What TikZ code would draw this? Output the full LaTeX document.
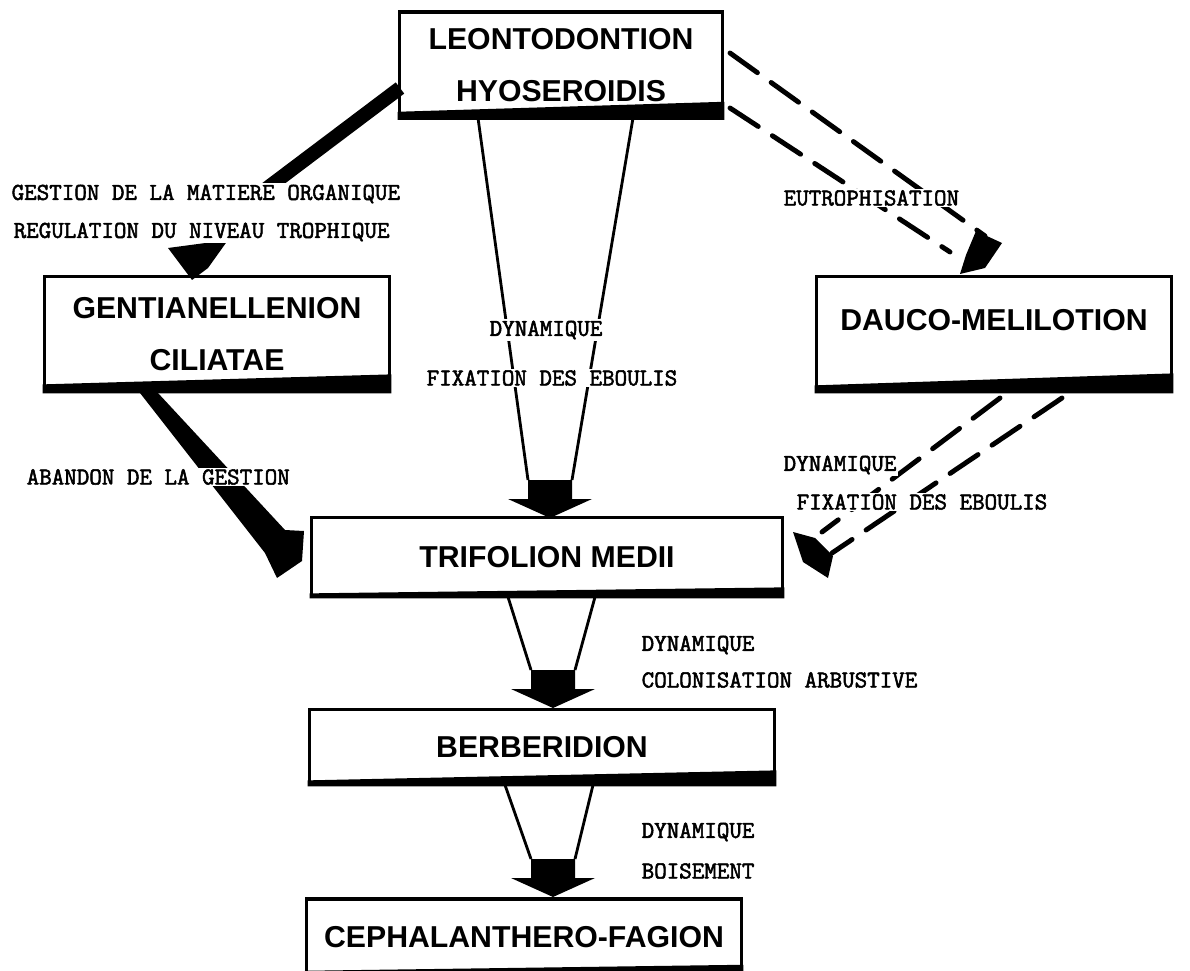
\documentclass[tikz,border=0pt]{standalone}
\usepackage{fontspec}
\usetikzlibrary{calc}
\newfontfamily\boxfont{Liberation Sans}
\newfontfamily\labfont[FakeBold=2.2]{Latin Modern Mono}

% thick shadow along the lower edge of a box
\newcommand{\boxshadow}[3]{\fill ($(#1.south west)$) -- ($(#1.south east)$) -- ($(#1.south east)+(0,-#3)$) -- ($(#1.south west)+(0,-#2)$) -- cycle;}
% block arrow head, tip at #1
\newcommand{\funnelhead}[1]{\fill (#1) -- ++(-42,-19) -- ++(20,0) -- ++(0,-19) -- ++(44,0) -- ++(0,19) -- ++(20,0) -- cycle;}

\begin{document}
\begin{tikzpicture}[x=0.025cm,y=-0.025cm]

		\tikzstyle{box} = [draw, line width=2.5pt, inner sep=0pt, align=center, font=\boxfont\bfseries\fontsize{21.5}{36.5}\selectfont]
		\tikzstyle{lab} = [fill=white, inner sep=1pt, anchor=west, font=\labfont\fontsize{17.3}{17.3}\selectfont]
		\tikzstyle{funnel} = [draw, line width=2pt]
		\tikzstyle{dashedge} = [draw, line width=3.5pt, line cap=round, dash pattern=on 24pt off 12pt]
		\tikzstyle{heavy} = [draw, line width=10pt]

		\useasboundingbox (0,0) rectangle (1190,971);
		\clip (0,0) rectangle (1190,971);

		% vegetation units
		\node[box, minimum width=8.08cm, minimum height=2.65cm] (leon) at (561,65) {LEONTODONTION\\HYOSEROIDIS};
		\node[box, minimum width=8.63cm, minimum height=2.88cm] (gent) at (217,334) {GENTIANELLENION\\CILIATAE};
		\node[box, minimum width=8.88cm, minimum height=2.88cm, text depth=20pt] (dauco) at (994,334) {DAUCO-MELILOTION};
		\node[box, minimum width=11.78cm, minimum height=1.98cm] (trif) at (547,557) {TRIFOLION MEDII};
		\node[box, minimum width=11.63cm, minimum height=1.88cm] (berb) at (542,747) {BERBERIDION};
		\node[box, minimum width=10.88cm, minimum height=1.9cm] (ceph) at (524,937) {CEPHALANTHERO-FAGION};

		\boxshadow{leon}{8}{18}
		\boxshadow{gent}{9}{19}
		\boxshadow{dauco}{8}{20}
		\boxshadow{trif}{5}{11}
		\boxshadow{berb}{6}{16}
		\boxshadow{ceph}{6}{12}

		% leontodontion -> gentianellenion
		\coordinate (lg1) at (400,88);
		\coordinate (lg2) at (262,192);
		\coordinate (lgtip) at (192,280);
		\draw[heavy] (lg1) to (lg2);
		\fill (lgtip) -- ++(-24,-32) -- ++(60,-8) -- ++(-20,28) -- cycle;

		% gentianellenion -> trifolion
		\coordinate (gt1) at (140,393);
		\coordinate (gttip) at (277,578);
		\fill (gt1) -- ++(18,0) -- (285,530) -- (304,531) -- (302,561) -- (gttip) -- (265,553) -- cycle;

		% leontodontion -> dauco-melilotion
		\coordinate (ld1) at (730,53);
		\coordinate (ld2) at (985,236);
		\coordinate (ld3) at (730,108);
		\coordinate (ld4) at (950,252);
		\draw[dashedge] (ld1) to (ld2);
		\draw[dashedge] (ld3) to (ld4);
		\fill (960,274) -- (966,255) -- (976,231) -- (1002,243) -- (985,268) -- cycle;

		% dauco-melilotion -> trifolion
		\coordinate (dt1) at (1000,398);
		\coordinate (dt2) at (822,532);
		\coordinate (dt3) at (1062,398);
		\coordinate (dt4) at (832,553);
		\draw[dashedge] (dt1) to (dt2);
		\draw[dashedge] (dt3) to (dt4);
		\fill (793,532) -- (815,538) -- (833,556) -- (828,578) -- (803,562) -- cycle;

		% funnels
		\coordinate (lt1) at (478,118);
		\coordinate (lt2) at (633,118);
		\coordinate (lttip) at (550,518);
		\draw[funnel] (lt1) to ($(lttip)+(-22,-38)$);
		\draw[funnel] (lt2) to ($(lttip)+(22,-38)$);
		\funnelhead{lttip}

		\coordinate (tb1) at (508,597);
		\coordinate (tb2) at (595,597);
		\coordinate (tbtip) at (553,708);
		\draw[funnel] (tb1) to ($(tbtip)+(-22,-38)$);
		\draw[funnel] (tb2) to ($(tbtip)+(22,-38)$);
		\funnelhead{tbtip}

		\coordinate (bc1) at (505,785);
		\coordinate (bc2) at (593,785);
		\coordinate (bctip) at (553,897);
		\draw[funnel] (bc1) to ($(bctip)+(-22,-38)$);
		\draw[funnel] (bc2) to ($(bctip)+(22,-38)$);
		\funnelhead{bctip}

		% labels
		\node[lab] (gestion) at (10,194) {GESTION DE LA MATIERE ORGANIQUE};
		\node[lab] (regul) at (12,232) {REGULATION DU NIVEAU TROPHIQUE};
		\node[lab] (eutro) at (782,198) {EUTROPHISATION};
		\node[lab] (dyn1) at (488,330) {DYNAMIQUE};
		\node[lab] (fix1) at (425,378) {FIXATION DES EBOULIS};
		\node[lab] (aband) at (25,477) {ABANDON DE LA GESTION};
		\node[lab] (dyn2) at (782,465) {DYNAMIQUE};
		\node[lab] (fix2) at (795,502) {FIXATION DES EBOULIS};
		\node[lab] (dyn3) at (640,645) {DYNAMIQUE};
		\node[lab] (colon) at (640,680) {COLONISATION ARBUSTIVE};
		\node[lab] (dyn4) at (640,832) {DYNAMIQUE};
		\node[lab] (bois) at (640,871) {BOISEMENT};
\end{tikzpicture}
\end{document}
